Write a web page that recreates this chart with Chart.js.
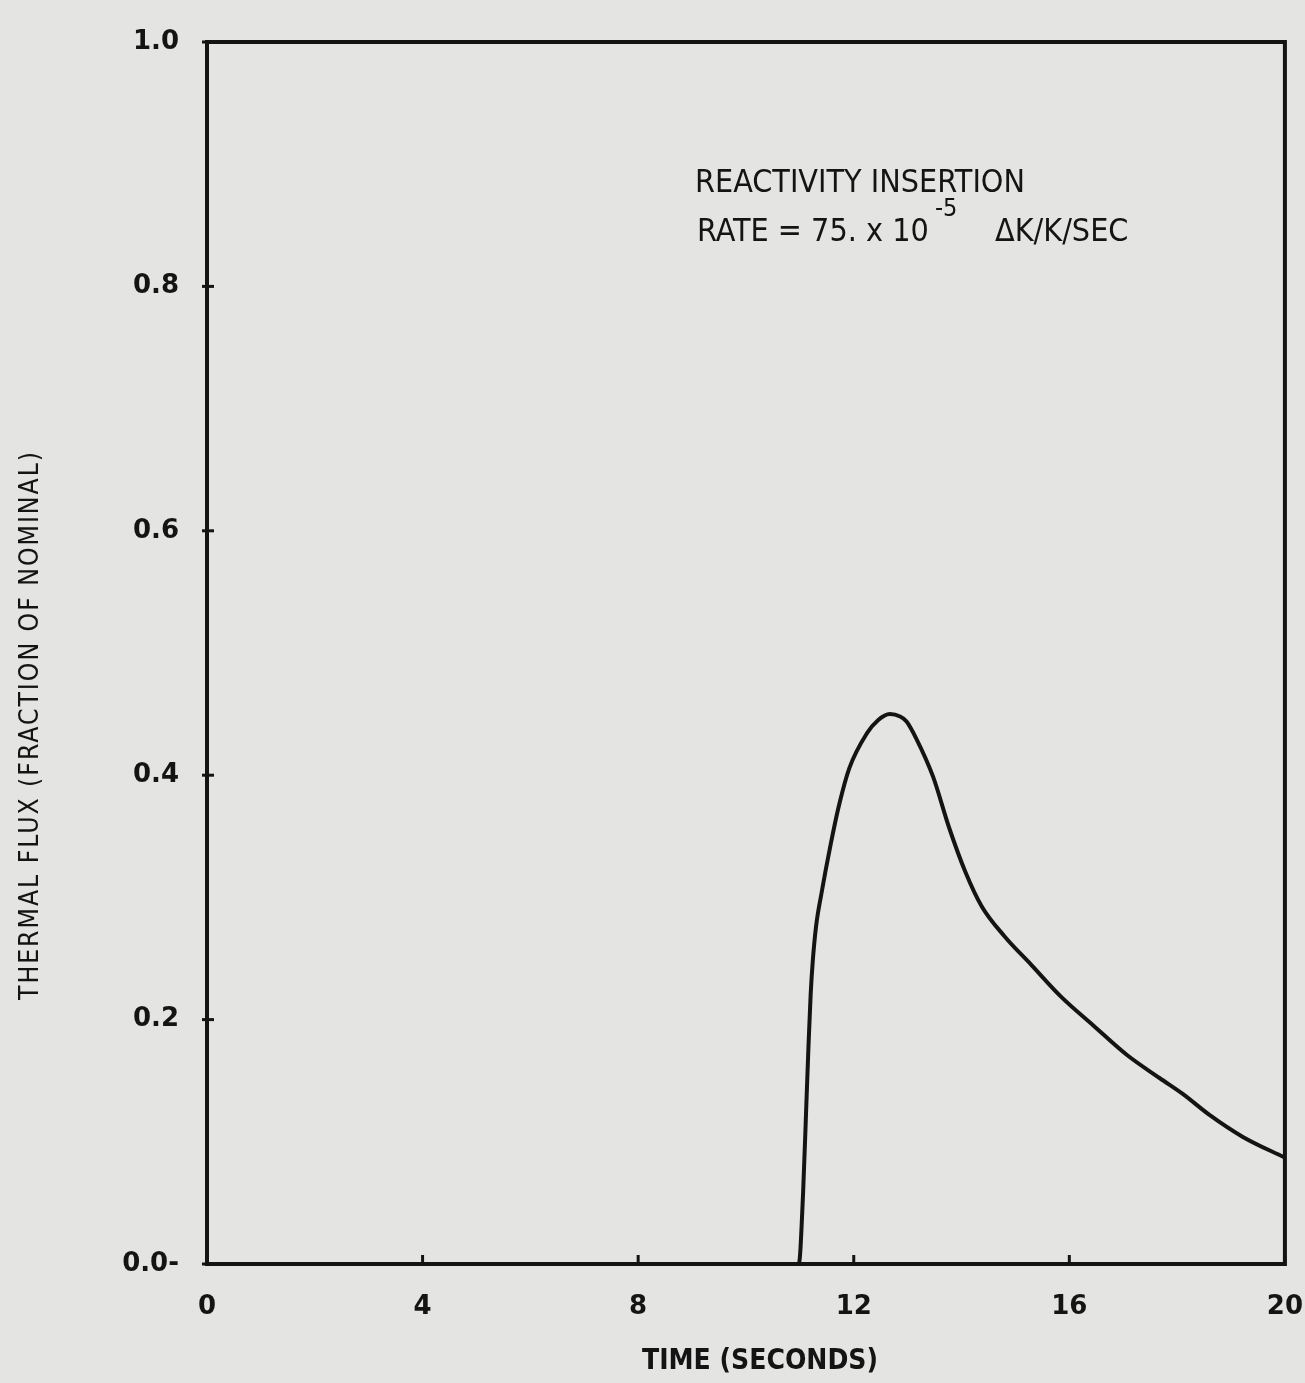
<!DOCTYPE html>
<html>
<head>
<meta charset="utf-8">
<script src="https://cdn.jsdelivr.net/npm/chart.js@4.4.0/dist/chart.umd.min.js"></script>
<style>
  html, body { margin: 0; padding: 0; background: #e4e4e2; }
  #wrap { width: 1305px; height: 1383px; }
</style>
</head>
<body>
<div id="wrap"><canvas id="fluxChart" width="1305" height="1383"></canvas></div>
<script>
// time, seconds
const timeSec = [0, 10.98, 11.06, 11.12, 11.16, 11.20, 11.24, 11.30, 11.40, 11.57, 11.73, 11.92,
                 12.24, 12.45, 12.67, 12.86, 12.98, 13.16, 13.47, 13.77, 14.07, 14.37, 14.80,
                 15.29, 15.84, 16.45, 17.07, 17.68, 18.11, 18.60, 19.22, 20];
// thermal flux, fraction of nominal
const thermalFlux = [0, 0, 0.058, 0.13, 0.178, 0.22, 0.248, 0.276, 0.303, 0.343, 0.376, 0.406,
                     0.434, 0.445, 0.450, 0.448, 0.444, 0.430, 0.399, 0.357, 0.321, 0.293, 0.268,
                     0.245, 0.219, 0.195, 0.171, 0.152, 0.139, 0.122, 0.104, 0.087];

const xTicks = [0, 4, 8, 12, 16, 20];
const xTickLabels = ['0', '4', '8', '12', '16', '20'];
const yTicks = [0, 0.2, 0.4, 0.6, 0.8, 1.0];
const yTickLabels = ['0.0-', '0.2', '0.4', '0.6', '0.8', '1.0'];

const xTitle = 'TIME (SECONDS)';
const yTitle = 'THERMAL FLUX (FRACTION OF NOMINAL)';
const noteLine1 = 'REACTIVITY INSERTION';
const noteLine2 = 'RATE = 75. x 10';
const noteExp = '-5';
const noteUnits = '\u0394K/K/SEC';

const ink = '#141414';
const tickFont = { family: 'DejaVu Sans', size: 26, weight: 'bold' };
const cond = '"DejaVu Sans Condensed", "DejaVu Sans"';

// box round the plot, ticks that cross the axis lines, titles and the note
const framePlugin = {
    id: 'frame',
    afterDraw(chart) {
        const ctx = chart.ctx;
        const a = chart.chartArea;
        const xs = chart.scales.x, ys = chart.scales.y;
        ctx.save();
        ctx.strokeStyle = ink;
        ctx.lineWidth = 4;
        ctx.strokeRect(a.left, a.top, a.right - a.left, a.bottom - a.top);
        ctx.lineWidth = 3;
        xTicks.forEach((v) => {
            const px = xs.getPixelForValue(v);
            ctx.beginPath();
            ctx.moveTo(px, a.bottom - 9);
            ctx.lineTo(px, a.bottom + 2);
            ctx.stroke();
        });
        yTicks.forEach((v) => {
            const py = ys.getPixelForValue(v);
            ctx.beginPath();
            ctx.moveTo(a.left - 5, py);
            ctx.lineTo(a.left + 7, py);
            ctx.stroke();
        });

        ctx.fillStyle = ink;
        ctx.textAlign = 'center';
        ctx.textBaseline = 'middle';

        // x title
        ctx.font = 'bold 28px ' + cond;
        ctx.fillText(xTitle, 760, 1362, 236);

        // y title
        ctx.save();
        ctx.translate(31, 725);
        ctx.rotate(-Math.PI / 2);
        ctx.font = '27px ' + cond;
        ctx.letterSpacing = '2px';
        ctx.fillText(yTitle, 0, 0, 550);
        ctx.restore();

        // note
        ctx.textAlign = 'left';
        ctx.textBaseline = 'alphabetic';
        const nx = a.left + 488;
        ctx.font = '32px ' + cond;
        ctx.fillText(noteLine1, nx, 192, 330);
        ctx.fillText(noteLine2, nx + 2, 241, 233);
        ctx.font = '25px ' + cond;
        ctx.fillText(noteExp, nx + 240, 216, 40);
        ctx.font = '32px ' + cond;
        ctx.fillText(noteUnits, nx + 300, 241, 140);
        ctx.restore();
    }
};

const ctx = document.getElementById('fluxChart').getContext('2d');
const fluxChart = new Chart(ctx, {
    type: 'line',
    data: {
        datasets: [{
            label: 'Thermal flux',
            data: timeSec.map((t, i) => ({ x: t, y: thermalFlux[i] })),
            borderColor: ink,
            borderWidth: 4,
            pointRadius: 0,
            fill: false,
            cubicInterpolationMode: 'monotone'
        }]
    },
    options: {
        responsive: false,
        animation: false,
        layout: { padding: { left: 0, right: 17, top: 42, bottom: 0 } },
        plugins: {
            legend: { display: false },
            tooltip: { enabled: false }
        },
        scales: {
            x: {
                type: 'linear',
                min: 0,
                max: 20,
                afterBuildTicks: (scale) => { scale.ticks = xTicks.map((v) => ({ value: v })); },
                afterFit: (scale) => { scale.height = 119; },
                grid: { drawOnChartArea: false, drawTicks: true, tickLength: 26, color: 'rgba(0,0,0,0)' },
                border: { display: false },
                ticks: {
                    color: ink,
                    font: tickFont,
                    padding: 2,
                    maxRotation: 0,
                    callback: (v) => xTickLabels[xTicks.indexOf(v)]
                }
            },
            y: {
                type: 'linear',
                min: 0,
                max: 1,
                afterBuildTicks: (scale) => { scale.ticks = yTicks.map((v) => ({ value: v })); },
                afterFit: (scale) => { scale.width = 207; },
                grid: { drawOnChartArea: false, drawTicks: true, tickLength: 26, color: 'rgba(0,0,0,0)' },
                border: { display: false },
                ticks: {
                    color: ink,
                    font: tickFont,
                    padding: 2,
                    callback: (v) => yTickLabels[yTicks.indexOf(v)]
                }
            }
        }
    },
    plugins: [framePlugin]
});
</script>
</body>
</html>
